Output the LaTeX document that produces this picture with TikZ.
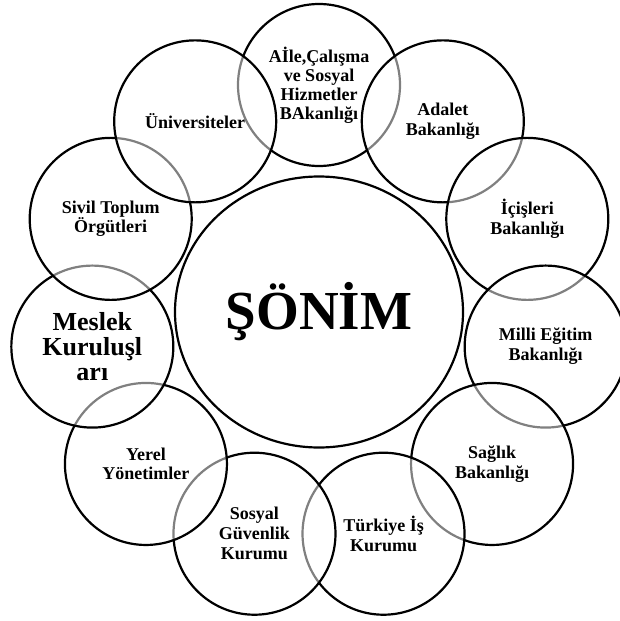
\documentclass[tikz,border=0pt]{standalone}
\usepackage{fontspec}
\setmainfont{Liberation Serif}[BoldFont={Liberation Serif Bold}]
\usetikzlibrary{shapes.geometric}
\begin{document}
\begin{tikzpicture}[y=1pt, x=1pt, yscale=-1, inner sep=0pt, outer sep=0pt,
	ring/.style={circle, draw=black, line width=2.2, fill=white, fill opacity=0.5, text opacity=1, minimum size=162, align=center}]
\useasboundingbox (0,0) rectangle (619,621);
	\node[ellipse, draw=black, line width=2.2, minimum width=288, minimum height=271, font=\bfseries\fontsize{55}{60}\selectfont] (sonim) at (319,312) {ŞÖNİM};
	\foreach \txt/\fs/\ls [count=\i] in {{Aİle,Çalışma\\ve Sosyal\\Hizmetler\\BAkanlığı}/18/19, {Adalet\\Bakanlığı}/18/20, {İçişleri\\Bakanlığı}/18/20, {Milli Eğitim\\Bakanlığı}/18/20, {Sağlık\\Bakanlığı}/18/20, {Türkiye İş\\Kurumu}/18/20, {Sosyal\\Güvenlik\\Kurumu}/18/20, {Yerel\\Yönetimler}/18/19, {Meslek\\Kuruluşl\\arı}/26/25, {Sivil Toplum\\Örgütleri}/18/19, {Üniversiteler}/18/19}{
		\node[ring, font=\bfseries\fontsize{\fs}{\ls}\selectfont] (c\i) at ({319+229*cos(90-(\i-1)*360/11)}, {314-229*sin(90-(\i-1)*360/11)}) {\txt};
	}
\end{tikzpicture}
\end{document}
